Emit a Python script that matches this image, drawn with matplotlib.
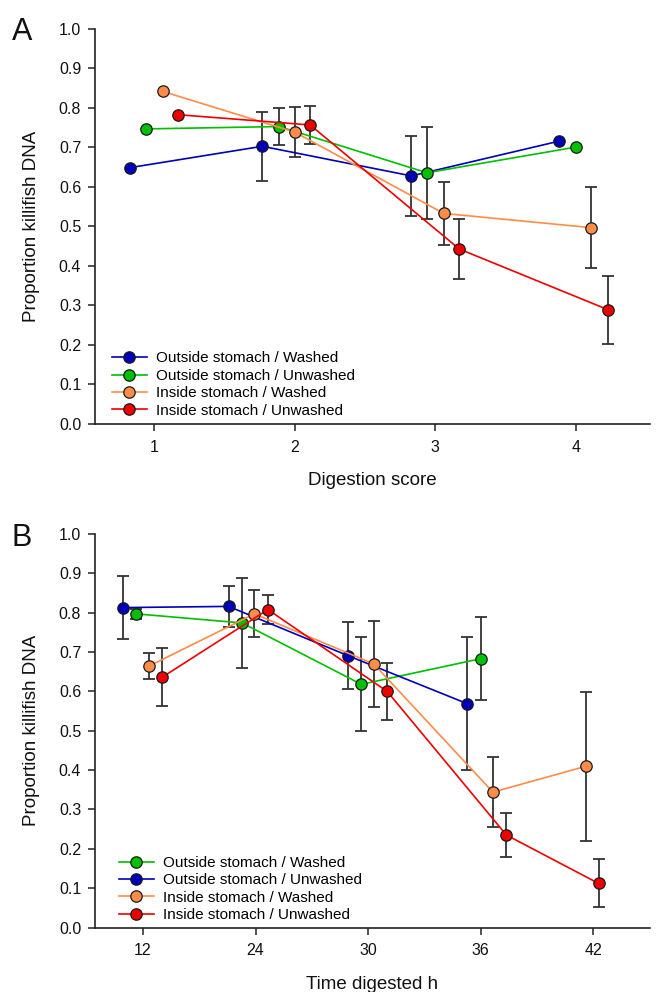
import numpy as np
import matplotlib
matplotlib.use("Agg")
import matplotlib.pyplot as plt

plt.rcParams['font.family'] = ['Liberation Sans', 'DejaVu Sans']

nan = np.nan

# ---------------- Panel A data (digestion score) ----------------
a_labels = ["Outside stomach / Washed", "Outside stomach / Unwashed",
            "Inside stomach / Washed", "Inside stomach / Unwashed"]
a_colors = ["#0000B8", "#00C000", "#FF8C48", "#EE0000"]
a_x = [[0.83, 1.77, 2.83, 3.88],
       [0.94, 1.89, 2.94, 4.00],
       [1.06, 2.00, 3.06, 4.11],
       [1.17, 2.11, 3.17, 4.23]]
a_y = [[0.649, 0.703, 0.628, 0.716],
       [0.747, 0.753, 0.636, 0.701],
       [0.842, 0.739, 0.533, 0.497],
       [0.783, 0.757, 0.443, 0.289]]
a_err = [[nan, 0.087, 0.102, nan],
         [nan, 0.046, 0.117, nan],
         [nan, 0.064, 0.080, 0.102],
         [nan, 0.049, 0.076, 0.086]]
a_ticks = [1, 2, 3, 4]

# ---------------- Panel B data (time digested) ----------------
b_labels = ["Outside stomach / Washed", "Outside stomach / Unwashed",
            "Inside stomach / Washed", "Inside stomach / Unwashed"]
b_colors = ["#00C000", "#0000B8", "#FF8C48", "#EE0000"]
b_x = [[0.94, 1.88, 2.94, 4.00],
       [0.82, 1.76, 2.82, 3.88],
       [1.05, 1.99, 3.05, 4.11, 4.94],
       [1.17, 2.11, 3.17, 4.23, 5.05]]
b_y = [[0.797, 0.774, 0.618, 0.683],
       [0.813, 0.816, 0.691, 0.569],
       [0.664, 0.797, 0.670, 0.344, 0.410],
       [0.636, 0.808, 0.600, 0.235, 0.112]]
b_err = [[0.012, 0.114, 0.119, 0.106],
         [0.080, 0.053, 0.086, 0.169],
         [0.033, 0.060, 0.110, 0.089, 0.189],
         [0.074, 0.036, 0.072, 0.055, 0.061]]
b_tick_pos = [1, 2, 3, 4, 5]
b_tick_labels = ["12", "24", "30", "36", "42"]

y_ticks = [0.0, 0.1, 0.2, 0.3, 0.4, 0.5, 0.6, 0.7, 0.8, 0.9, 1.0]

fig = plt.figure(figsize=(6.59, 9.92), dpi=100)
axA = fig.add_axes([0.1442, 0.5726, 0.8422, 0.3982])
axB = fig.add_axes([0.1442, 0.0650, 0.8422, 0.3967])


def draw(ax, xs, ys, errs, colors, labels):
    for x, y, e, c, lab in zip(xs, ys, errs, colors, labels):
        ax.errorbar(x, y, yerr=e, fmt='none', ecolor='#333333', elinewidth=1.3,
                    capsize=4.6, capthick=1.3, zorder=3)
        ax.plot(x, y, '-', color=c, lw=1.2, marker='o', ms=8.2,
                markerfacecolor=c, markeredgecolor='#1a1a1a', markeredgewidth=0.9,
                label=lab, zorder=4)


def style(ax):
    for s in ['top', 'right']:
        ax.spines[s].set_visible(False)
    for s in ['left', 'bottom']:
        ax.spines[s].set_linewidth(1.2)
        ax.spines[s].set_color('#222222')
    ax.set_ylim(0, 1.0)
    ax.set_yticks(y_ticks)
    ax.set_yticklabels([f"{v:.1f}" for v in y_ticks])
    ax.tick_params(axis='both', direction='out', length=5, width=1.1,
                   color='#222222', labelsize=11.5, labelcolor='#111111')
    ax.tick_params(axis='y', pad=5)
    ax.tick_params(axis='x', pad=6.5)
    ax.set_ylabel("Proportion killifish DNA", fontsize=13.5, color='#111111')
    ax.yaxis.set_label_coords(-0.100, 0.5)


draw(axA, a_x, a_y, a_err, a_colors, a_labels)
style(axA)
axA.set_xlim(0.58, 4.527)
axA.set_xticks(a_ticks)
axA.set_xticklabels([str(t) for t in a_ticks])
axA.set_xlabel("Digestion score", fontsize=13.5, color='#111111', labelpad=12.5)
axA.legend(loc='upper left', bbox_to_anchor=(0.030, 0.1835), frameon=False,
           fontsize=11, handlelength=2.3, handletextpad=0.6, labelspacing=0.22,
           borderpad=0, borderaxespad=0, numpoints=1)

draw(axB, b_x, b_y, b_err, b_colors, b_labels)
style(axB)
axB.set_xlim(0.573, 5.507)
axB.set_xticks(b_tick_pos)
axB.set_xticklabels(b_tick_labels)
axB.set_xlabel("Time digested h", fontsize=13.5, color='#111111', labelpad=12.5)
axB.legend(loc='upper left', bbox_to_anchor=(0.043, 0.182), frameon=False,
           fontsize=11, handlelength=2.3, handletextpad=0.6, labelspacing=0.22,
           borderpad=0, borderaxespad=0, numpoints=1)

fig.text(12 / 659, 1 - 40 / 992, "A", fontsize=22, va='baseline', ha='left', color='#111111')
fig.text(12 / 659, 1 - 546 / 992, "B", fontsize=22, va='baseline', ha='left', color='#111111')

fig.savefig("out.png", dpi=100)
